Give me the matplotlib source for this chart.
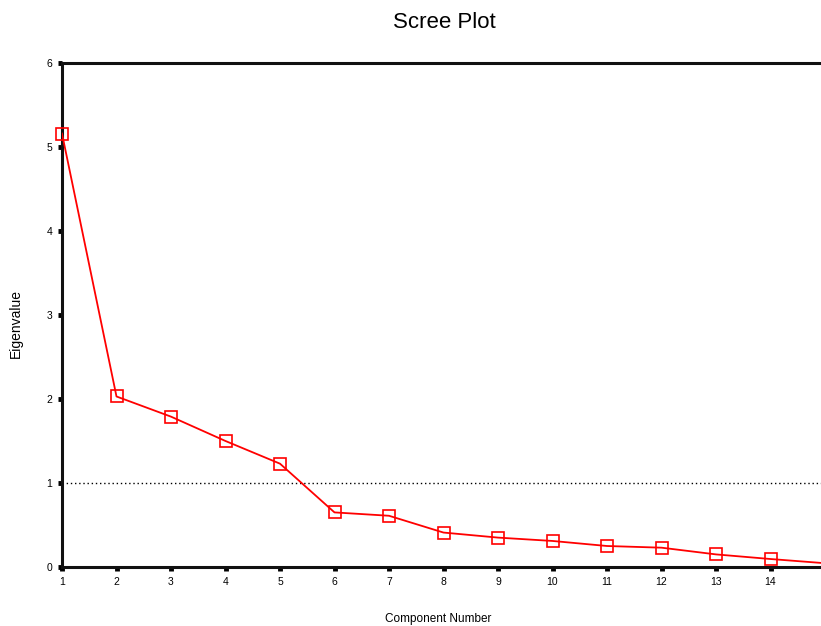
import matplotlib

matplotlib.use("Agg")
import matplotlib.pyplot as plt

plt.rcParams["font.family"] = ["Liberation Sans", "DejaVu Sans"]

components = list(range(1, 16))
eigenvalues = [5.16, 2.03, 1.79, 1.50, 1.23, 0.65, 0.61, 0.41, 0.35, 0.31,
               0.25, 0.23, 0.15, 0.095, 0.045]
x_ticks = list(range(1, 15))
y_ticks = [0, 1, 2, 3, 4, 5, 6]

W, H = 821, 626
fig = plt.figure(figsize=(W / 100, H / 100), dpi=100)
left, right, top, bottom = 62, 821, 63, 567
ax = fig.add_axes([left / W, 1 - bottom / H, (right - left) / W, (bottom - top) / H])

# line runs off the right edge; the last marker sits just outside the picture
ax.plot(components, eigenvalues, color="red", lw=1.3, zorder=3)
ax.plot(components[:14], eigenvalues[:14], linestyle="none", marker="s", markersize=8.5,
        markerfacecolor="none", markeredgecolor="red", markeredgewidth=1.2, clip_on=False, zorder=4)
ax.axhline(1, color="black", lw=1, linestyle=(0, (1, 2)))

ax.set_xlim(1, 1 + (right - left) / 54.5)
ax.set_ylim(0, 6)
ax.set_xticks(x_ticks)
ax.set_yticks(y_ticks)
ax.tick_params(direction="out", length=3, width=3.5, labelsize=7.5, color="black", pad=4)

for side in ("left", "top", "bottom"):
    ax.spines[side].set_linewidth(2.2)
    ax.spines[side].set_color("#111111")
ax.spines["right"].set_visible(False)

fig.text(444 / W, 1 - 22 / H, "Scree Plot", ha="center", va="center", fontsize=16)
fig.text(16 / W, 1 - 323 / H, "Eigenvalue", ha="center", va="center", rotation=90, fontsize=10)
fig.text(438 / W, 1 - 619 / H, "Component Number", ha="center", va="center", fontsize=8.5)

fig.savefig("out.png", dpi=100)
